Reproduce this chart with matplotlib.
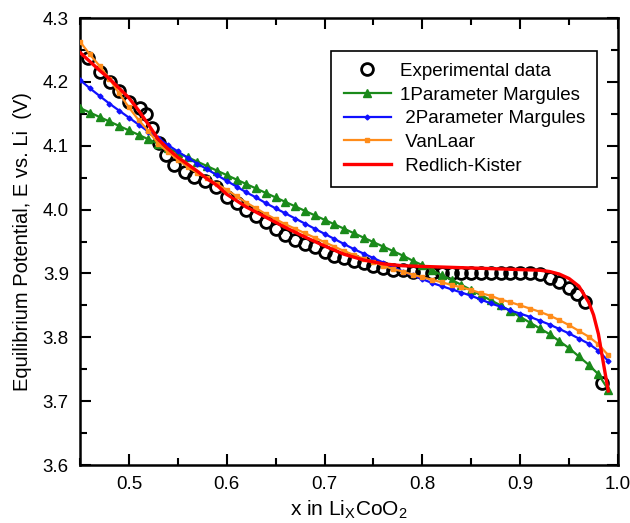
import matplotlib
matplotlib.use('Agg')
import matplotlib.pyplot as plt
from matplotlib.ticker import MultipleLocator

plt.rcParams['font.family'] = ['Liberation Sans', 'DejaVu Sans']
plt.rcParams['mathtext.fontset'] = 'custom'
plt.rcParams['mathtext.rm'] = 'Liberation Sans'

# experimentelle Daten
x_exp = [0.458, 0.470, 0.481, 0.490, 0.500, 0.511, 0.517, 0.524, 0.531, 0.538,
         0.546, 0.557, 0.567, 0.578, 0.589, 0.600, 0.610, 0.620, 0.630, 0.640,
         0.650, 0.660, 0.670, 0.680, 0.690, 0.700, 0.710, 0.720, 0.730, 0.740,
         0.750, 0.760, 0.770, 0.780, 0.790, 0.800, 0.810, 0.820, 0.830, 0.840,
         0.850, 0.860, 0.870, 0.880, 0.890, 0.900, 0.910, 0.920, 0.930, 0.940,
         0.950, 0.958, 0.966, 0.984]
e_exp = [4.237, 4.216, 4.200, 4.185, 4.169, 4.159, 4.150, 4.128, 4.104, 4.085,
         4.070, 4.059, 4.051, 4.044, 4.035, 4.020, 4.010, 3.999, 3.990, 3.981,
         3.969, 3.960, 3.952, 3.946, 3.941, 3.934, 3.928, 3.924, 3.920, 3.916,
         3.912, 3.908, 3.906, 3.905, 3.903, 3.902, 3.901, 3.900, 3.900, 3.900,
         3.900, 3.900, 3.900, 3.900, 3.900, 3.900, 3.900, 3.899, 3.893, 3.887,
         3.877, 3.868, 3.855, 3.728]

# Modellkurven
x_mod = [0.45, 0.46, 0.47, 0.48, 0.49, 0.50, 0.51, 0.52, 0.53, 0.54,
         0.55, 0.56, 0.57, 0.58, 0.59, 0.60, 0.61, 0.62, 0.63, 0.64,
         0.65, 0.66, 0.67, 0.68, 0.69, 0.70, 0.71, 0.72, 0.73, 0.74,
         0.75, 0.76, 0.77, 0.78, 0.79, 0.80, 0.81, 0.82, 0.83, 0.84,
         0.85, 0.86, 0.87, 0.88, 0.89, 0.90, 0.91, 0.92, 0.93, 0.94,
         0.95, 0.96, 0.97, 0.98, 0.99]
e_margules1 = [4.159, 4.152, 4.145, 4.138, 4.131, 4.124, 4.117, 4.110, 4.103, 4.096,
               4.089, 4.082, 4.075, 4.068, 4.061, 4.054, 4.047, 4.040, 4.033, 4.026,
               4.019, 4.012, 4.005, 3.998, 3.991, 3.984, 3.977, 3.970, 3.963, 3.956,
               3.949, 3.942, 3.935, 3.928, 3.920, 3.913, 3.905, 3.897, 3.890, 3.882,
               3.874, 3.866, 3.858, 3.850, 3.841, 3.832, 3.823, 3.814, 3.805, 3.794,
               3.783, 3.770, 3.757, 3.742, 3.718]
e_margules2 = [4.203, 4.190, 4.178, 4.166, 4.155, 4.144, 4.133, 4.122, 4.112, 4.101,
               4.091, 4.081, 4.072, 4.063, 4.054, 4.045, 4.036, 4.027, 4.019, 4.010,
               4.002, 3.994, 3.986, 3.978, 3.970, 3.962, 3.954, 3.946, 3.938, 3.931,
               3.924, 3.917, 3.910, 3.903, 3.897, 3.891, 3.885, 3.880, 3.875, 3.870,
               3.865, 3.859, 3.853, 3.848, 3.842, 3.837, 3.832, 3.826, 3.820, 3.813,
               3.806, 3.798, 3.790, 3.779, 3.763]
e_vanlaar = [4.263, 4.243, 4.225, 4.205, 4.182, 4.160, 4.140, 4.123, 4.103, 4.090,
             4.078, 4.067, 4.057, 4.049, 4.040, 4.031, 4.021, 4.011, 4.002, 3.993,
             3.985, 3.977, 3.970, 3.963, 3.956, 3.949, 3.942, 3.935, 3.929, 3.923,
             3.918, 3.912, 3.907, 3.903, 3.898, 3.894, 3.890, 3.886, 3.882, 3.878,
             3.874, 3.869, 3.865, 3.859, 3.855, 3.850, 3.845, 3.840, 3.834, 3.827,
             3.819, 3.810, 3.801, 3.789, 3.772]

x_rk = [0.45, 0.46, 0.47, 0.48, 0.49, 0.50, 0.51, 0.52, 0.53, 0.54,
        0.55, 0.56, 0.57, 0.58, 0.59, 0.60, 0.62, 0.64, 0.66, 0.68,
        0.70, 0.72, 0.74, 0.76, 0.78, 0.80, 0.82, 0.84, 0.86, 0.88,
        0.90, 0.92, 0.93, 0.94, 0.95, 0.96, 0.97, 0.975, 0.98, 0.985, 0.99]
e_rk = [4.246, 4.232, 4.218, 4.205, 4.190, 4.175, 4.155, 4.133, 4.110, 4.095,
        4.082, 4.071, 4.060, 4.048, 4.038, 4.024, 4.004, 3.988, 3.972, 3.957,
        3.943, 3.930, 3.921, 3.915, 3.912, 3.911, 3.910, 3.909, 3.908, 3.907,
        3.906, 3.905, 3.903, 3.899, 3.892, 3.880, 3.855, 3.835, 3.805, 3.760, 3.716]

fig = plt.figure(figsize=(6.3, 5.23), dpi=100)
ax = fig.add_axes([80 / 630, 1 - 465 / 523, 538 / 630, 447 / 523])

ax.plot(x_exp, e_exp, 'o', mfc='none', mec='k', mew=2.0, ms=8.5, label='Experimental data', zorder=2)
ax.plot(x_mod, e_margules1, color='#1a8a1a', lw=1.6, marker='^', ms=5.5, label='1Parameter Margules', zorder=3)
ax.plot(x_mod, e_margules2, color='#1010ff', lw=1.6, marker='D', ms=2.5, label=' 2Parameter Margules', zorder=3)
ax.plot(x_mod, e_vanlaar, color='#ff8c1a', lw=1.6, marker='s', ms=3, label=' VanLaar', zorder=4)
ax.plot(x_rk, e_rk, color='#ff0000', lw=2.4, label=' Redlich-Kister', zorder=5)

ax.set_xlim(0.45, 1.0)
ax.set_ylim(3.6, 4.3)
ax.xaxis.set_major_locator(MultipleLocator(0.1))
ax.xaxis.set_minor_locator(MultipleLocator(0.05))
ax.yaxis.set_major_locator(MultipleLocator(0.1))
ax.yaxis.set_minor_locator(MultipleLocator(0.05))
ax.tick_params(which='both', direction='in', top=True, right=True, width=1.5, labelsize=13.5)
ax.tick_params(which='major', length=8, pad=8)
ax.tick_params(which='minor', length=5)
for s in ax.spines.values():
    s.set_linewidth(1.8)

ax.set_xlabel('x in Li$_\\mathrm{X}$CoO$_2$', fontsize=15, labelpad=4)
ax.set_ylabel('Equilibrium Potential, E vs. Li  (V)', fontsize=14.5, labelpad=8)

leg = ax.legend(loc='upper right', bbox_to_anchor=(0.979, 0.948), fontsize=13.5, fancybox=False,
                edgecolor='k', framealpha=1, handlelength=2.5, handletextpad=0.5,
                borderpad=0.65, labelspacing=0.35)
leg.get_frame().set_linewidth(1.2)

fig.savefig('out.png', dpi=100)
